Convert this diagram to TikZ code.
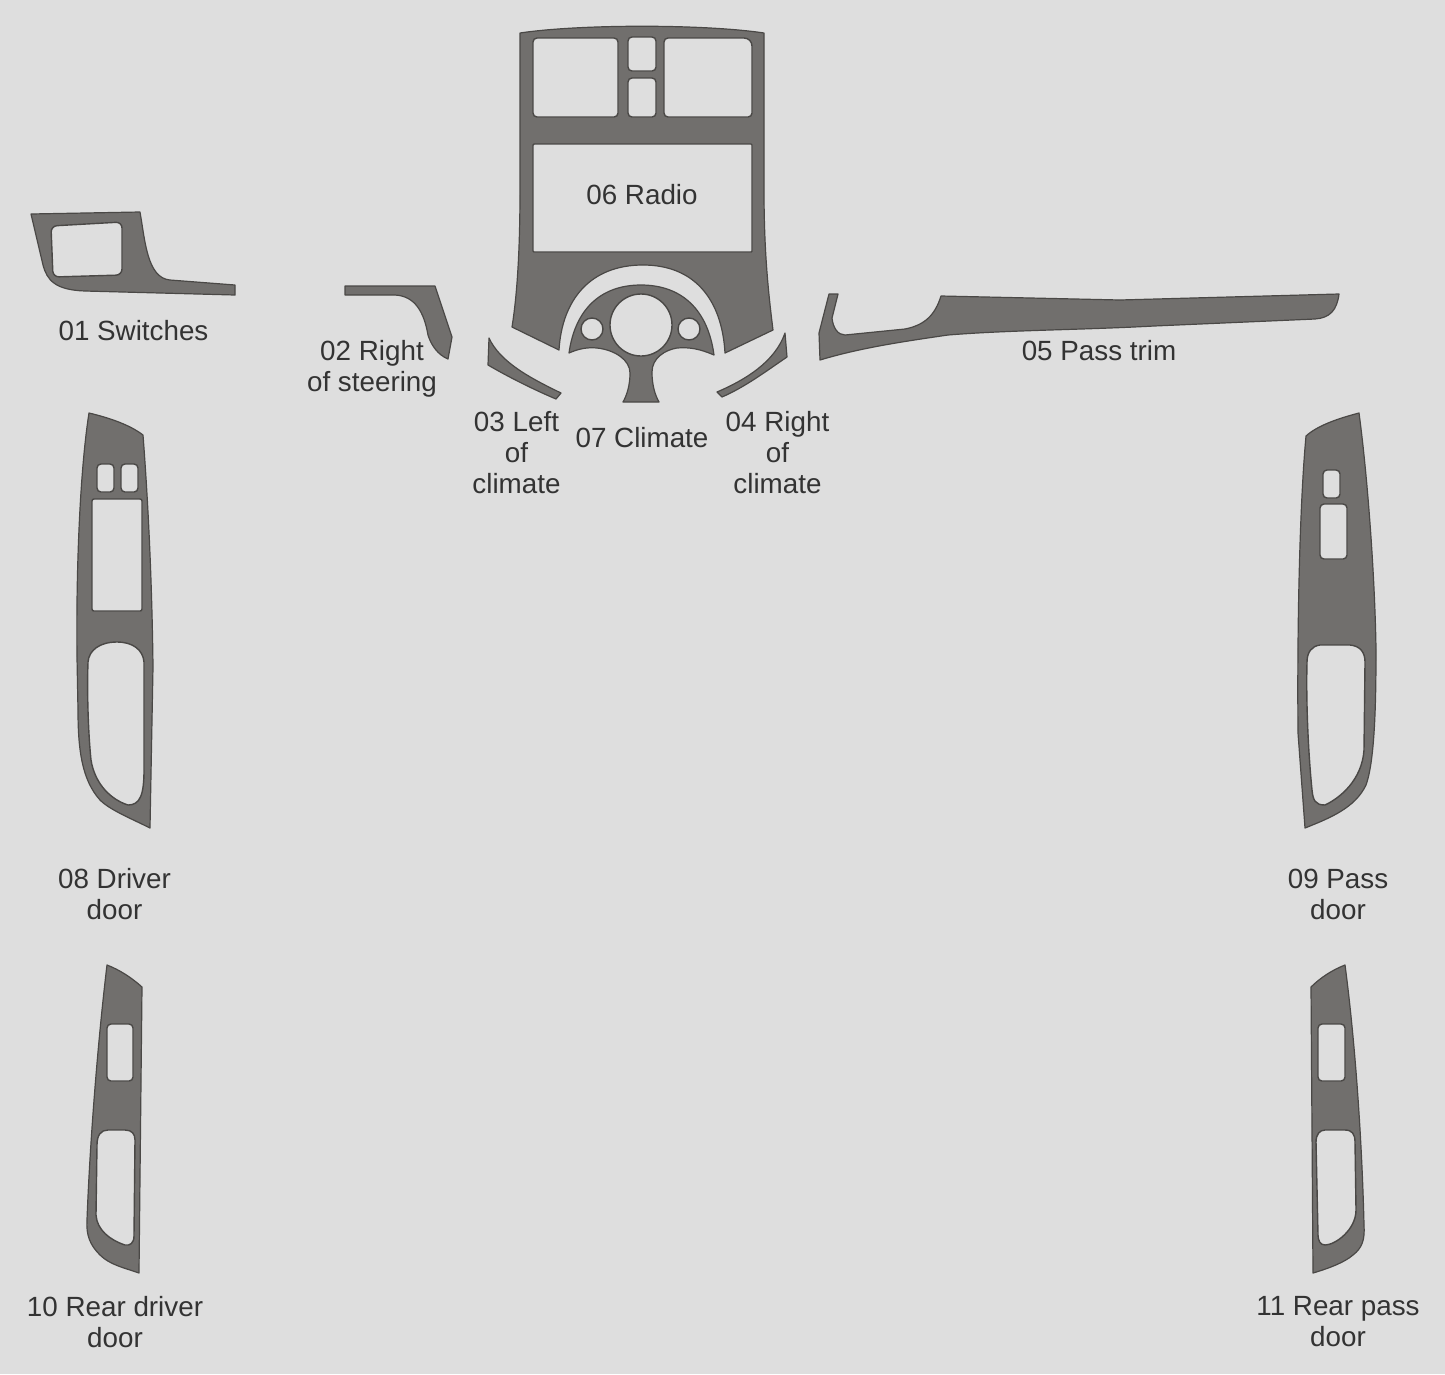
\documentclass[tikz,border=0pt]{standalone}
\usepackage{fontspec}
\setmainfont{Liberation Sans}
\definecolor{bgcol}{HTML}{DEDEDE}
\definecolor{partcol}{HTML}{716F6D}
\definecolor{edgecol}{HTML}{4A4846}
\definecolor{labelcol}{HTML}{333333}
\tikzset{
	part/.style={fill=partcol,draw=edgecol,line width=1.2pt,line join=round},
	hole/.style={fill=bgcol,draw=edgecol,line width=1.4pt,rounded corners=4},
	lbl/.style={text=labelcol,align=center,inner sep=0pt,font=\fontsize{27.8}{31}\selectfont},
}
\begin{document}
\begin{tikzpicture}[x=1pt,y=-1pt]
		\fill[bgcol] (0,0) rectangle (1445,1374);
		\useasboundingbox (0,0) rectangle (1445,1374);

		\draw[part] (520,33) .. controls (580,24) and (704,24) .. (764,33) -- (764,190) .. controls (764,250) and (768,290) .. (773,330) -- (725,353) .. controls (722,300) and (695,265) .. (643,265) .. controls (590,265) and (562,300) .. (559,350) -- (512,327) .. controls (518,290) and (520,240) .. (520,190) -- cycle;
		\draw[hole] (533,38) rectangle (618,117);
		\draw[hole] (628,37) rectangle (656,71);
		\draw[hole] (628,78) rectangle (656,117);
		\draw[hole] (664,117) -- (664,38) [rounded corners=8] -- (752,38) [rounded corners=4] -- (752,117) -- cycle;
		\draw[hole,rounded corners=1] (533,144) rectangle (752,252);

		\draw[part] (569,353) .. controls (575,310) and (600,285) .. (641,285) .. controls (682,285) and (708,310) .. (714,355) .. controls (700,349) and (690,347) .. (677,348) .. controls (665,350) and (652,358) .. (652,372) .. controls (652,385) and (655,395) .. (659,402) -- (623,402) .. controls (627,395) and (630,385) .. (630,373) .. controls (630,360) and (615,350) .. (597,348) .. controls (587,347) and (578,349) .. (569,353) -- cycle;
		\draw[hole] (641,325) circle (31);
		\draw[hole] (592,329) circle (11);
		\draw[hole] (689,329) circle (11);

		\draw[part] (489,338) .. controls (500,362) and (530,378) .. (561,393) -- (556,399) .. controls (530,388) and (505,375) .. (488,365) -- cycle;
		\draw[part] (785,333) -- (787,357) .. controls (765,372) and (745,387) .. (722,397) -- (717,392) .. controls (745,380) and (775,362) .. (785,333) -- cycle;

		\draw[part] (31,214) -- (140,212) .. controls (145,240) and (147,278) .. (170,280) -- (235,285) -- (235,295) -- (85,291) .. controls (55,290) and (47,280) .. (43,265) -- cycle;
		\draw[hole,rounded corners=6] (51,226) -- (122,222) -- (122,275) -- (53,277) -- cycle;

		\draw[part] (345,286) -- (435,286) -- (452,337) -- (448,359) .. controls (438,355) and (431,345) .. (428,335) .. controls (424,312) and (415,296) .. (395,295) -- (345,295) -- cycle;

		\draw[part] (829,294) -- (838,294) -- (832,318) .. controls (833,328) and (838,335) .. (845,335) -- (905,329) .. controls (925,325) and (935,315) .. (941,296) -- (1120,300) -- (1339,294) .. controls (1337,310) and (1330,318) .. (1315,319) -- (1154,326) .. controls (1080,330) and (1010,330) .. (948,335) .. controls (900,342) and (860,348) .. (820,360) -- (819,333) -- cycle;

		\draw[part] (89,413) .. controls (110,418) and (130,425) .. (143,435) .. controls (148,500) and (152,580) .. (153,667) -- (150,828) .. controls (130,818) and (110,810) .. (100,800) .. controls (82,780) and (78,750) .. (78,710) -- (77,657) .. controls (76,570) and (80,470) .. (89,413) -- cycle;
		\draw[hole] (97,464) rectangle (114,492);
		\draw[hole] (121,464) rectangle (138,492);
		\draw[hole,rounded corners=2] (92,499) rectangle (142,611);
		\draw[hole,rounded corners=0] (117,642) .. controls (133,642) and (143,650) .. (144,662) -- (144,770) .. controls (144,795) and (140,805) .. (128,805) .. controls (112,800) and (95,785) .. (91,760) .. controls (88,730) and (87,690) .. (88,662) .. controls (89,650) and (100,642) .. (117,642) -- cycle;

		\draw[part] (1359,413) .. controls (1340,418) and (1318,425) .. (1306,436) .. controls (1300,500) and (1297,620) .. (1298,733) -- (1305,828) .. controls (1330,818) and (1355,808) .. (1366,785) .. controls (1375,760) and (1376,700) .. (1376,650) .. controls (1375,580) and (1368,480) .. (1359,413) -- cycle;
		\draw[hole] (1323,470) rectangle (1340,498);
		\draw[hole] (1320,504) rectangle (1347,559);
		\draw[hole,rounded corners=0] (1320,645) -- (1350,645) .. controls (1360,646) and (1365,652) .. (1365,662) -- (1364,750) .. controls (1362,780) and (1340,798) .. (1325,805) .. controls (1315,805) and (1313,800) .. (1312,790) .. controls (1308,750) and (1306,700) .. (1307,662) .. controls (1307,652) and (1312,646) .. (1320,645) -- cycle;

		\draw[part] (107,965) .. controls (120,970) and (132,978) .. (142,987) -- (139,1273) .. controls (125,1268) and (110,1265) .. (100,1255) .. controls (90,1245) and (86,1235) .. (87,1220) .. controls (90,1140) and (98,1040) .. (107,965) -- cycle;
		\draw[hole] (107,1024) rectangle (133,1081);
		\draw[hole,rounded corners=0] (108,1130) -- (125,1130) .. controls (132,1130) and (135,1134) .. (135,1140) -- (134,1236) .. controls (134,1243) and (130,1246) .. (125,1245) .. controls (110,1240) and (97,1230) .. (96,1215) -- (97,1145) .. controls (97,1135) and (101,1130) .. (108,1130) -- cycle;

		\draw[part] (1345,965) .. controls (1332,970) and (1320,978) .. (1311,987) -- (1313,1273) .. controls (1330,1268) and (1345,1262) .. (1353,1255) .. controls (1362,1248) and (1365,1240) .. (1364,1225) .. controls (1362,1140) and (1355,1040) .. (1345,965) -- cycle;
		\draw[hole] (1318,1024) rectangle (1345,1081);
		\draw[hole,rounded corners=0] (1325,1130) -- (1345,1130) .. controls (1352,1130) and (1355,1134) .. (1355,1142) -- (1356,1210) .. controls (1356,1230) and (1335,1245) .. (1325,1245) .. controls (1320,1245) and (1318,1240) .. (1318,1235) -- (1316,1142) .. controls (1316,1134) and (1320,1130) .. (1325,1130) -- cycle;

		\node[lbl](switches) at (133.5,331) {01 Switches};
		\node[lbl](steering) at (372,369) {02 Right\\of steering};
		\node[lbl](leftclimate) at (516.5,453) {03 Left\\of\\climate};
		\node[lbl](rightclimate) at (777.5,453) {04 Right\\of\\climate};
		\node[lbl](passtrim) at (1099,351) {05 Pass trim};
		\node[lbl](radio) at (642,195) {06 Radio};
		\node[lbl](climate) at (642,438) {07 Climate};
		\node[lbl](driverdoor) at (114.5,894) {08 Driver\\door};
		\node[lbl](passdoor) at (1338,894) {09 Pass\\door};
		\node[lbl](reardriver) at (115,1322) {10 Rear driver\\door};
		\node[lbl](rearpass) at (1338,1322) {11 Rear pass\\door};
	\end{tikzpicture}
\end{document}
